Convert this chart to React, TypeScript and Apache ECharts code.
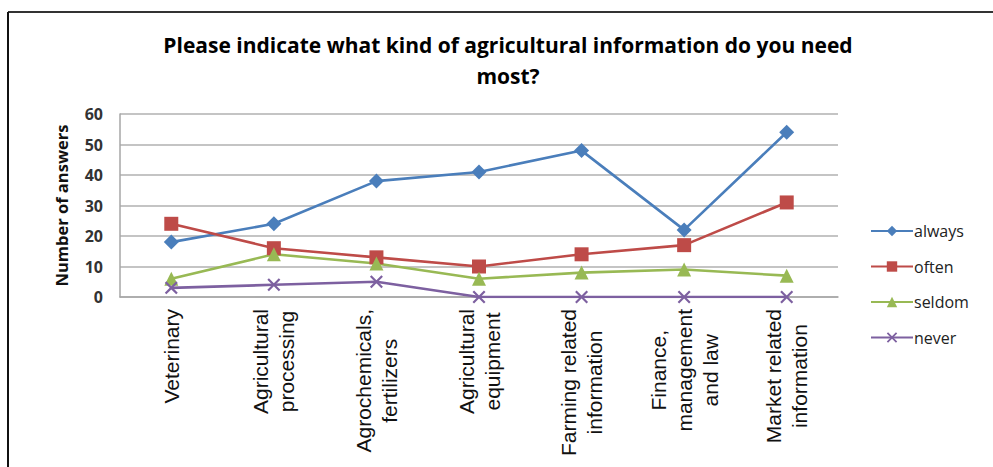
import React, { useEffect, useRef } from "react";
import * as echarts from "echarts";

const categories = [
  "Veterinary",
  "Agricultural\nprocessing",
  "Agrochemicals,\nfertilizers",
  "Agricultural\nequipment",
  "Farming related\ninformation",
  "Finance,\nmanagement\nand law",
  "Market related\ninformation",
];
const always = [18, 24, 38, 41, 48, 22, 54];
const often = [24, 16, 13, 10, 14, 17, 31];
const seldom = [6, 14, 11, 6, 8, 9, 7];
const never = [3, 4, 5, 0, 0, 0, 0];
const yTicks = { min: 0, max: 60, interval: 10 };

const TITLE = "Please indicate what kind of agricultural information do you need\nmost?";
const CAL = "'Open Sans', Lato, sans-serif";
const ARIAL = "'Liberation Sans', Arial, sans-serif";
const X_PATH =
  "path://M0,1.2L1.2,0L5,3.8L8.8,0L10,1.2L6.2,5L10,8.8L8.8,10L5,6.2L1.2,10L0,8.8L3.8,5Z";

export default function App() {
  const ref = useRef<HTMLDivElement>(null);
  useEffect(() => {
    if (!ref.current) return;
    const chart = echarts.init(ref.current, undefined, { renderer: "svg" });
    const mk = (name: string, data: number[], color: string, symbol: string, size: number) => ({
      name,
      type: "line",
      data,
      symbol,
      symbolSize: size,
      lineStyle: { color, width: 2.6 },
      itemStyle: { color, borderWidth: 0 },
    });
    chart.setOption({
      animation: false,
      backgroundColor: "#ffffff",
      graphic: [
        { type: "line", shape: { x1: 8, y1: 12, x2: 993, y2: 12 }, style: { stroke: "#333", lineWidth: 2 } },
        { type: "line", shape: { x1: 8, y1: 12, x2: 8, y2: 467 }, style: { stroke: "#111", lineWidth: 2 } },
        {
          type: "text",
          x: 508,
          y: 29,
          style: {
            text: TITLE,
            fontFamily: CAL,
            fontWeight: "bold",
            fontSize: 21,
            lineHeight: 31,
            align: "center",
            fill: "#000",
          },
        },
      ],
      grid: { left: 120, right: 155, top: 114, bottom: 170, containLabel: false },
      legend: {
        orient: "vertical",
        left: 865,
        top: 218,
        itemWidth: 42,
        itemHeight: 13,
        itemGap: 19.5,
        textStyle: { fontFamily: CAL, fontSize: 16, color: "#222", padding: [0, 0, 0, -4] },
        data: ["always", "often", "seldom", "never"],
      },
      xAxis: {
        type: "category",
        data: categories,
        boundaryGap: true,
        axisLine: { show: true, lineStyle: { color: "#a6a6a6", width: 1.5 } },
        axisTick: { show: false },
        axisLabel: {
          interval: 0,
          rotate: 90,
          margin: 12,
          formatter: (v: string) =>
            v
              .split("\n")
              .map((l) => `{c|${l}}`)
              .join("\n"),
          rich: {
            c: { align: "center", fontFamily: ARIAL, fontSize: 21, lineHeight: 26, color: "#111" },
          },
        },
      },
      yAxis: {
        type: "value",
        min: yTicks.min,
        max: yTicks.max,
        interval: yTicks.interval,
        name: "Number of answers",
        nameLocation: "middle",
        nameGap: 50,
        nameTextStyle: { fontFamily: CAL, fontWeight: "bold", fontSize: 16.5, color: "#111" },
        axisLine: { show: true, lineStyle: { color: "#a6a6a6", width: 1.5 } },
        axisTick: { show: false },
        axisLabel: { fontFamily: CAL, fontWeight: "bold", fontSize: 16, color: "#333", margin: 17 },
        splitLine: { lineStyle: { color: "#c4c4c4", width: 1.8 } },
      },
      series: [
        mk("always", always, "#4a7ebb", "diamond", 15),
        mk("often", often, "#be4b48", "rect", 14),
        mk("seldom", seldom, "#98b954", "triangle", 14),
        mk("never", never, "#7d60a0", X_PATH, 13),
      ],
    });
    return () => chart.dispose();
  }, []);
  return (
    <div
      ref={ref}
      style={{ position: "fixed", left: 0, top: 0, width: 993, height: 467, background: "#fff" }}
    />
  );
}
